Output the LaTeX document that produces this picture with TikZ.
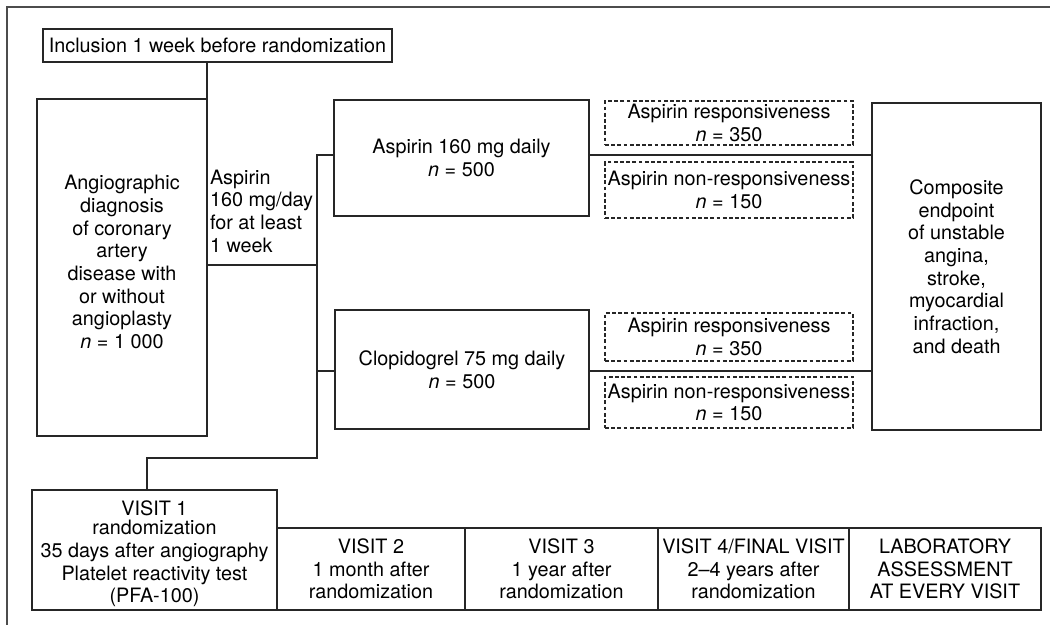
\documentclass[tikz,border=0pt]{standalone}
\usepackage{fontspec}
\setmainfont{TeX Gyre Heros}
\begin{document}
\begin{tikzpicture}[x=1pt,y=-1pt,
  every node/.style={font=\fontsize{19.8}{22.7}\selectfont, inner sep=0pt, outer sep=0pt, align=center, text=black},
  box/.style={draw=black!85, line width=1.2pt},
  dbox/.style={box, dash pattern=on 3.8pt off 2.4pt},
  conn/.style={draw=black!85, line width=1.2pt},
  frame/.style={draw=black!70, line width=1.4pt}]
\useasboundingbox (0,0) rectangle (1050,627);
\draw[frame] (1050,7) -- (7,7) -- (7,625);
% boxes
\node[box, minimum width=349pt, minimum height=33pt] (incl) at (217.5,45.5) {Inclusion 1 week before randomization};
\node[box, minimum width=170pt, minimum height=337pt] (angio) at (122,267.5) {};
\node (angiotxt) at (122,262) {Angiographic\\diagnosis\\of coronary\\artery\\disease with\\or without\\angioplasty\\\textit{n} = 1 000};
\node[align=left, anchor=west] (asptxt) at (210,211) {Aspirin\\160 mg/day\\for at least\\1 week};
\node[box, minimum width=255pt, minimum height=116pt] (asp) at (461.5,158) {Aspirin 160 mg daily\\\textit{n} = 500};
\node[box, minimum width=254pt, minimum height=119pt] (clop) at (462,369.5) {Clopidogrel 75 mg daily\\\textit{n} = 500};
\node[dbox, minimum width=248pt, minimum height=44pt] (d1) at (729,123) {Aspirin responsiveness\\\textit{n} = 350};
\node[dbox, minimum width=248pt, minimum height=56pt] (d2) at (729,190) {Aspirin non-responsiveness\\\textit{n} = 150};
\node[dbox, minimum width=248pt, minimum height=48pt] (d3) at (729,337) {Aspirin responsiveness\\\textit{n} = 350};
\node[dbox, minimum width=248pt, minimum height=51pt] (d4) at (729,402.5) {Aspirin non-responsiveness\\\textit{n} = 150};
\node[box, minimum width=169pt, minimum height=327pt] (comp) at (956.5,266.5) {Composite\\endpoint\\of unstable\\angina,\\stroke,\\myocardial\\infraction,\\and death};
\node[box, minimum width=245pt, minimum height=120pt] (v1) at (154.5,550) {};
\node (v1txt) at (154.5,554) {VISIT 1\\[-4pt]randomization\\35 days after angiography\\Platelet reactivity test\\(PFA-100)};
\node[box, minimum width=188pt, minimum height=82pt] (v2) at (371,569) {VISIT 2\\1 month after\\randomization};
\node[box, minimum width=193pt, minimum height=82pt] (v3) at (561.5,569) {VISIT 3\\1 year after\\randomization};
\node[box, minimum width=191pt, minimum height=82pt] (v4) at (753.5,569) {VISIT 4/FINAL VISIT\\2–4 years after\\randomization};
\node[box, minimum width=192pt, minimum height=82pt] (lab) at (945,569) {LABORATORY\\ASSESSMENT\\AT EVERY VISIT};
% connectors
\coordinate (ya) at (0,155);
\coordinate (yc) at (0,371);
\coordinate (sj) at (317,265);
\coordinate (sb) at (317,458);
\coordinate (vc) at (147,0);
\draw[conn] (incl.south -| angio.north east) -- (angio.north east);
\draw[conn] (angio.east |- sj) -- (sj);
\draw[conn] (asp.west |- ya) -| (sb) -| (vc |- v1.north);
\draw[conn] (clop.west |- yc) -- (sb |- yc);
\draw[conn] (asp.east |- ya) -- (comp.west |- ya);
\draw[conn] (clop.east |- yc) -- (comp.west |- yc);
\end{tikzpicture}
\end{document}
